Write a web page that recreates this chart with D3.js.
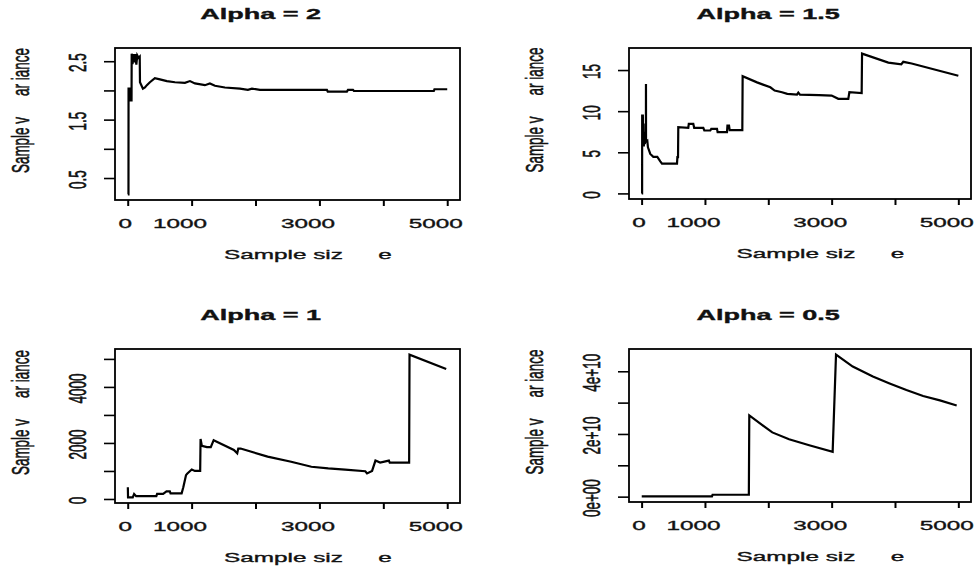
<!DOCTYPE html>
<html>
<head>
<meta charset="utf-8">
<script src="https://cdn.jsdelivr.net/npm/d3@7"></script>
<style>
  html, body { margin: 0; padding: 0; background: #fff; }
  svg { display: block; font-family: "Liberation Sans", Arial, sans-serif; }
  svg text { stroke: #111; stroke-width: 0.35px; }
</style>
</head>
<body>
<script>
// Running sample variance of stable samples, one panel per alpha.
const alphaTitles = ["Alpha = 2", "Alpha = 1.5", "Alpha = 1", "Alpha = 0.5"];

const sampleSizeA2 = [2, 12, 13, 30, 31, 60, 62, 75, 90, 105, 120, 135, 150, 170, 188, 192, 238, 270, 300, 347, 425, 504, 613, 739, 895, 974, 1052, 1208, 1286, 1365, 1521, 1756, 1881, 1944, 2069, 3117, 3130, 3430, 3447, 3525, 3540, 4790, 4800, 5000];
const varianceA2   = [0.22, 0.22, 2.03, 2.03, 1.83, 1.83, 2.63, 2.45, 2.62, 2.48, 2.62, 2.44, 2.60, 2.56, 2.58, 2.14, 2.03, 2.05, 2.09, 2.14, 2.21, 2.19, 2.16, 2.14, 2.13, 2.16, 2.12, 2.09, 2.12, 2.08, 2.05, 2.03, 2.01, 2.03, 2.01, 2.01, 1.98, 1.98, 2.01, 2.01, 1.99, 1.99, 2.02, 2.02];

const sampleSizeA15 = [2, 8, 9, 20, 22, 30, 35, 45, 50, 60, 68, 69, 70, 90, 100, 137, 185, 248, 295, 322, 559, 565, 575, 579, 737, 745, 816, 830, 974, 990, 1084, 1100, 1190, 1200, 1348, 1355, 1380, 1390, 1590, 1595, 1822, 2032, 2100, 2216, 2300, 2453, 2474, 2500, 2800, 3000, 3105, 3263, 3280, 3474, 3480, 3895, 4100, 4131, 4263, 5000];
const varianceA15   = [0, 0, 9.45, 9.45, 6.4, 8.5, 5.7, 7.5, 6.0, 6.4, 6.2, 13.3, 6.3, 6.4, 5.6, 4.8, 4.45, 4.45, 3.9, 3.62, 3.62, 4.4, 4.4, 8.05, 7.97, 8.45, 8.45, 7.97, 7.97, 7.65, 7.65, 7.85, 7.85, 7.44, 7.44, 8.25, 8.25, 7.7, 7.7, 14.25, 13.5, 12.9, 12.5, 12.3, 12.1, 12.0, 12.25, 12.0, 11.95, 11.9, 11.5, 11.5, 12.3, 12.2, 17.0, 15.9, 15.7, 16.0, 15.8, 14.3];

const sampleSizeA1 = [2, 5, 79, 100, 132, 448, 460, 554, 607, 659, 670, 844, 870, 912, 930, 1002, 1050, 1134, 1140, 1160, 1239, 1300, 1345, 1661, 1714, 1730, 1767, 2189, 2558, 2874, 3138, 3402, 3718, 3745, 3824, 3877, 3950, 4087, 4100, 4404, 4410, 4984];
const varianceA1   = [420, 60, 60, 180, 100, 100, 180, 180, 270, 270, 200, 200, 420, 850, 900, 1050, 1000, 1000, 2140, 1900, 1850, 1850, 2100, 1750, 1630, 1800, 1800, 1510, 1330, 1150, 1090, 1050, 990, 910, 1000, 1370, 1300, 1370, 1300, 1300, 5150, 4640];

const sampleSizeA05 = [2, 1111, 1120, 1693, 1700, 2063, 2328, 2646, 3016, 3069, 3333, 3651, 3915, 4180, 4444, 4709, 4974];
const varianceA05   = [0.01e10, 0.01e10, 0.06e10, 0.06e10, 2.59e10, 2.05e10, 1.83e10, 1.64e10, 1.43e10, 4.53e10, 4.15e10, 3.83e10, 3.61e10, 3.40e10, 3.21e10, 3.07e10, 2.91e10];

const xTicks = [0, 1000, 2000, 3000, 4000, 5000];
const xTickLabels = ["0", "1000", "", "3000", "", "5000"];

const yTicksA2 = [0.5, 1, 1.5, 2, 2.5];
const yTickLabelsA2 = ["0.5", "", "1.5", "", "2.5"];
const yTicksA15 = [0, 5, 10, 15];
const yTickLabelsA15 = ["0", "5", "10", "15"];
const yTicksA1 = [0, 1000, 2000, 3000, 4000, 5000];
const yTickLabelsA1 = ["0", "", "2000", "", "4000", ""];
const yTicksA05 = [0, 1e10, 2e10, 3e10, 4e10];
const yTickLabelsA05 = ["0e+00", "", "2e+10", "", "4e+10"];

const xLabelParts = ["Sample siz", "e"];
const yLabelParts = ["Sample v", "ar iance"];

// ---- drawing ----
const W = 976, H = 573;
const K = 1.8;            // horizontal glyph stretch of the device
const FONT = 13.5;

const svg = d3.select("body").append("svg").attr("width", W).attr("height", H);

const panels = [
  { title: alphaTitles[0], n: sampleSizeA2,  v: varianceA2,  yt: yTicksA2,  yl: yTickLabelsA2,  box: [115, 460, 48, 200] },
  { title: alphaTitles[1], n: sampleSizeA15, v: varianceA15, yt: yTicksA15, yl: yTickLabelsA15, box: [629, 971, 48, 199] },
  { title: alphaTitles[2], n: sampleSizeA1,  v: varianceA1,  yt: yTicksA1,  yl: yTickLabelsA1,  box: [115, 460, 349, 503] },
  { title: alphaTitles[3], n: sampleSizeA05, v: varianceA05, yt: yTicksA05, yl: yTickLabelsA05, box: [629, 971, 349, 502] }
];

// Horizontal text anchored at its natural right edge, stretched leftwards.
function stretchedText(g, str, cx, y, size, weight) {
  const t = g.append("text")
    .attr("font-size", size)
    .attr("font-weight", weight || "normal")
    .attr("text-anchor", "end")
    .attr("fill", "#111")
    .text(str);
  const w0 = t.node().getComputedTextLength();
  t.attr("transform", `translate(${cx + w0 / 2},${y}) scale(${K},1)`);
  return t;
}

// Vertical text reading bottom-to-top, glyph height stretched horizontally.
function verticalText(g, str, x, cy, size) {
  return g.append("text")
    .attr("font-size", size)
    .attr("text-anchor", "middle")
    .attr("dy", "0.35em")
    .attr("fill", "#111")
    .attr("transform", `translate(${x},${cy}) rotate(-90) scale(1,${K})`)
    .text(str);
}

panels.forEach(p => {
  const [x0, x1, y0, y1] = p.box;
  const cx = (x0 + x1) / 2, cy = (y0 + y1) / 2;
  const g = svg.append("g");

  const nExt = [1, 5000];
  const nPad = 0.04 * (nExt[1] - nExt[0]);
  const x = d3.scaleLinear().domain([nExt[0] - nPad, nExt[1] + nPad]).range([x0, x1]);
  const vExt = d3.extent(p.v);
  const vPad = 0.04 * (vExt[1] - vExt[0]);
  const y = d3.scaleLinear().domain([vExt[0] - vPad, vExt[1] + vPad]).range([y1, y0]);

  // x axis
  const xa = g.append("g").attr("transform", `translate(0,${y1})`)
    .call(d3.axisBottom(x).tickValues(xTicks).tickFormat((d, i) => xTickLabels[i]).tickSize(6).tickSizeOuter(0));
  xa.select(".domain").remove();
  xa.selectAll(".tick line").attr("stroke", "#000").attr("stroke-width", 2);
  xa.selectAll(".tick text").each(function () {
    const t = d3.select(this);
    t.attr("y", null).attr("dy", null).attr("x", 0)
      .attr("font-size", FONT).attr("fill", "#111").attr("text-anchor", "end");
    const w0 = this.getComputedTextLength();
    t.attr("transform", `translate(${w0 / 2},28) scale(${K},1)`);
  });

  // y axis
  const ya = g.append("g").attr("transform", `translate(${x0},0)`)
    .call(d3.axisLeft(y).tickValues(p.yt).tickFormat((d, i) => p.yl[i]).tickSize(11).tickSizeOuter(0));
  ya.select(".domain").remove();
  ya.selectAll(".tick line").attr("stroke", "#000").attr("stroke-width", 1.6);
  ya.selectAll(".tick text")
    .attr("x", null).attr("dy", "0.35em")
    .attr("font-size", FONT).attr("fill", "#111").attr("text-anchor", "middle")
    .attr("transform", `translate(-38,1) rotate(-90) scale(1,${K})`);
  g.selectAll("g").attr("font-family", null).attr("font-size", null);

  // series
  const pts = p.n.map((n, i) => [n, p.v[i]]);
  g.append("path")
    .datum(pts)
    .attr("fill", "none")
    .attr("stroke", "#000")
    .attr("stroke-width", 2.2)
    .attr("d", d3.line().x(d => x(d[0])).y(d => y(d[1])));

  // frame
  g.append("rect")
    .attr("x", x0).attr("y", y0)
    .attr("width", x1 - x0).attr("height", y1 - y0)
    .attr("fill", "none").attr("stroke", "#000").attr("stroke-width", 1.8);

  // title and axis labels
  stretchedText(g, p.title, cx, y0 - 29.5, 15, "bold");

  g.append("text").attr("font-size", FONT).attr("text-anchor", "middle").attr("fill", "#111")
    .attr("transform", `translate(${cx - 4},${y1 + 59}) scale(${K},1)`).text(xLabelParts[0]);
  g.append("text").attr("font-size", FONT).attr("text-anchor", "middle").attr("fill", "#111")
    .attr("transform", `translate(${cx + 97.5},${y1 + 59}) scale(${K},1)`).text(xLabelParts[1]);

  verticalText(g, yLabelParts[0], x0 - 94.5, cy + 21, FONT);
  verticalText(g, yLabelParts[1], x0 - 94.5, cy - 52, FONT);
});
</script>
</body>
</html>
